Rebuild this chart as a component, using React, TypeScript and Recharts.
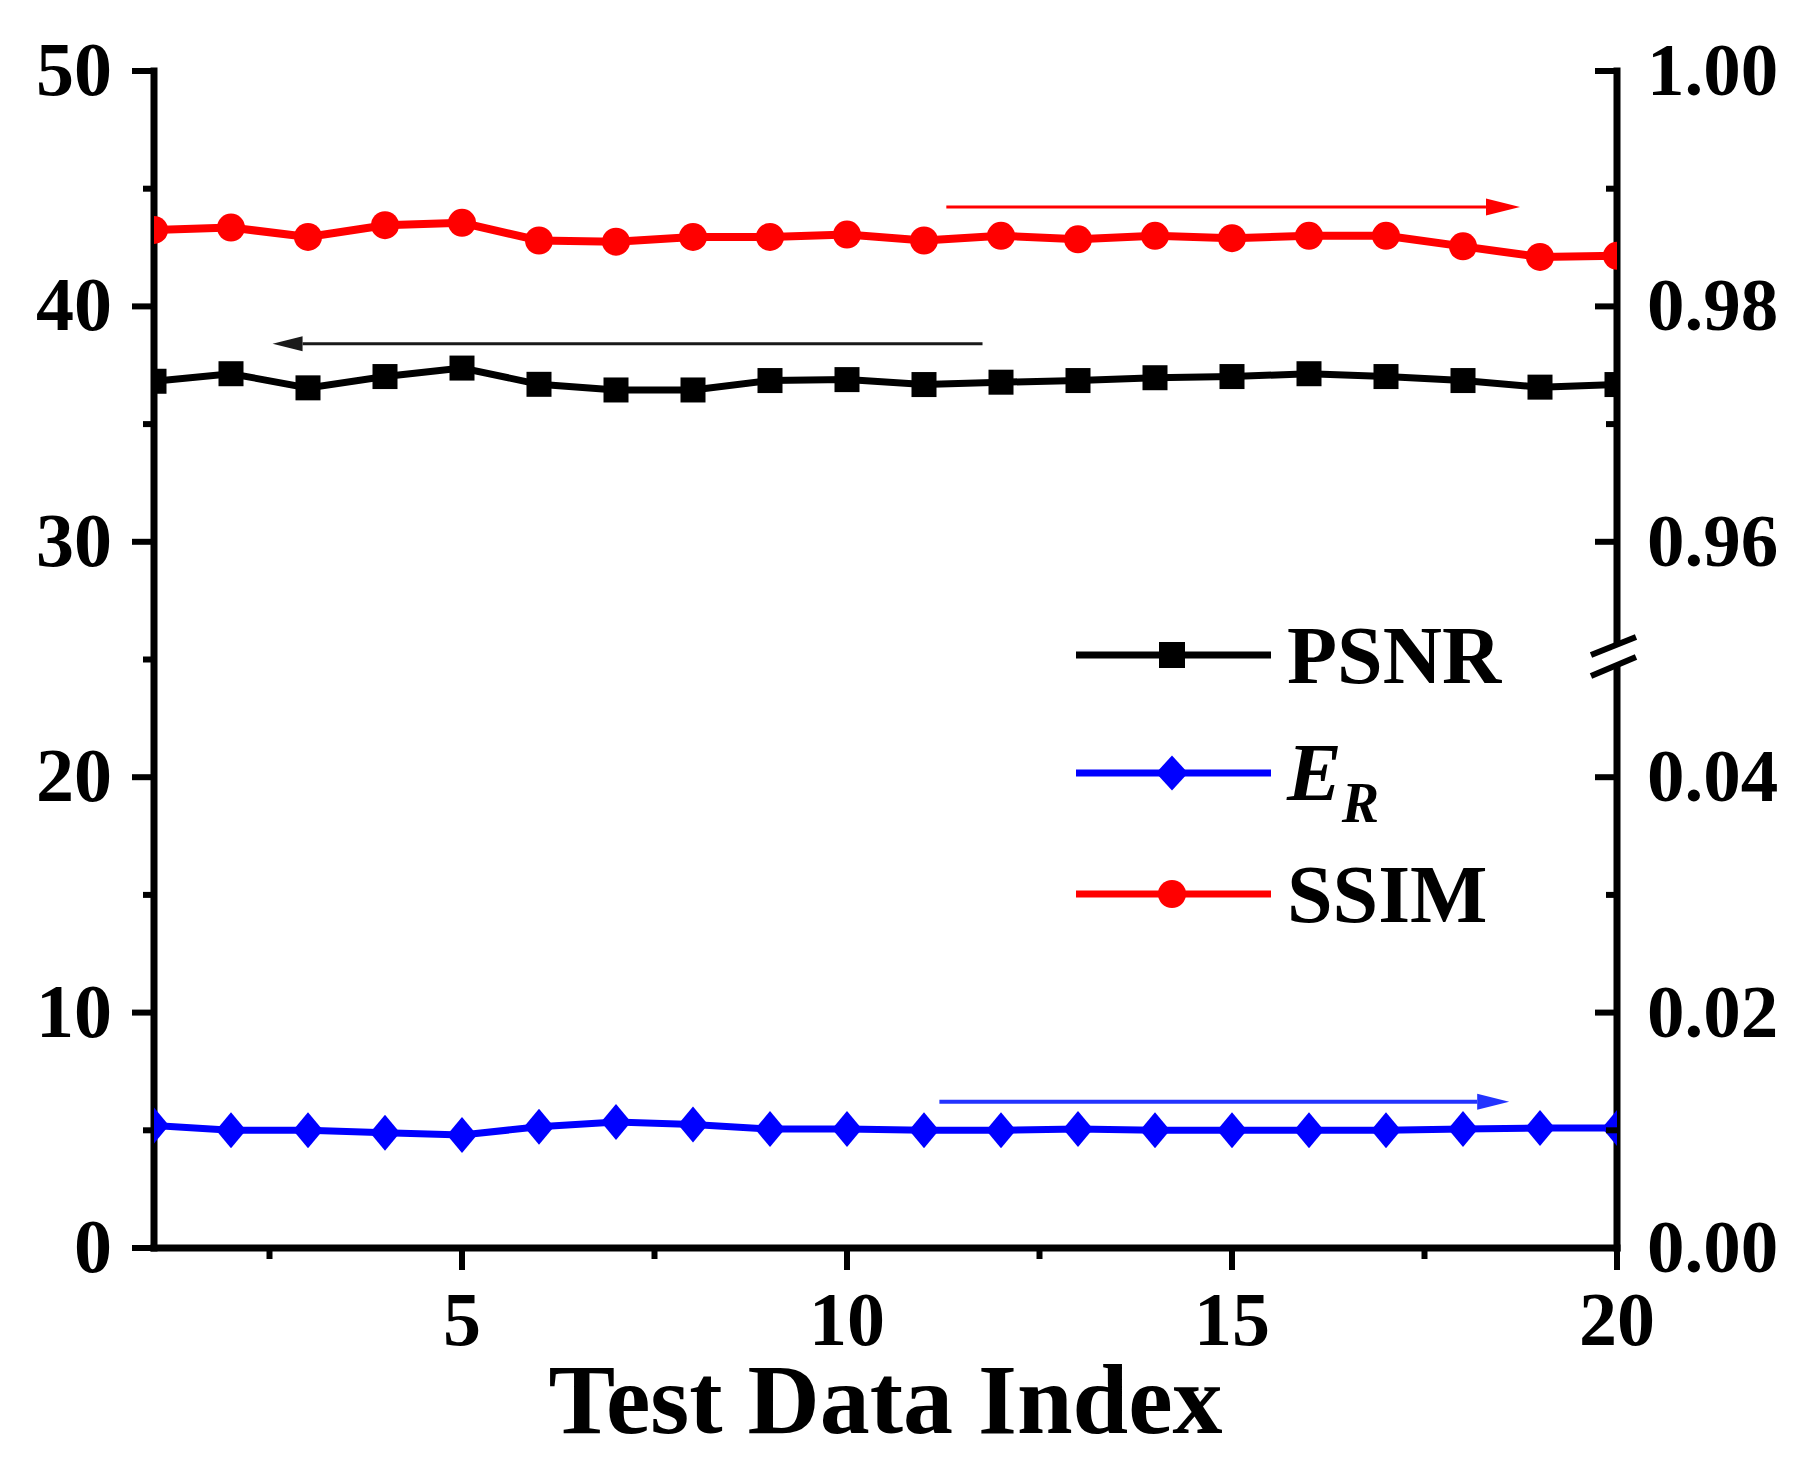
import React from "react"
import {
  LineChart,
  Line,
  XAxis,
  YAxis,
  Legend,
  ReferenceLine,
  ReferenceDot,
} from "recharts"

document.body.style.margin = "0"

// ---- data ----
const testIndex = [1, 2, 3, 4, 5, 6, 7, 8, 9, 10, 11, 12, 13, 14, 15, 16, 17, 18, 19, 20]
const psnr = [
  36.82, 37.14, 36.54, 37.02, 37.38, 36.69, 36.45, 36.45, 36.85, 36.89,
  36.68, 36.78, 36.85, 36.97, 37.02, 37.14, 37.02, 36.85, 36.57, 36.68,
]
const ssim = [
  0.9865, 0.9867, 0.9859, 0.9869, 0.9871, 0.9856, 0.9855, 0.9859, 0.9859, 0.9861,
  0.9856, 0.986, 0.9857, 0.986, 0.9858, 0.986, 0.986, 0.9851, 0.9842, 0.9843,
]
const er = [
  0.0104, 0.01, 0.01, 0.0098, 0.0096, 0.0103, 0.0107, 0.0105, 0.0101, 0.0101,
  0.01, 0.01, 0.0101, 0.01, 0.01, 0.01, 0.01, 0.0101, 0.0102, 0.0102,
]

const xTicks = [2.5, 5, 7.5, 10, 12.5, 15, 17.5, 20]
const leftTicks = [0, 5, 10, 15, 20, 25, 30, 35, 40, 45, 50]
// right axis is broken: lower half 0..0.05 (E_R), upper half 0.95..1.00 (SSIM)
const rightTicks = [0, 0.01, 0.02, 0.03, 0.04, 0.06, 0.07, 0.08, 0.09, 0.1]

const legendNames = ["PSNR", "E_R", "SSIM"]

// arrows pointing to the axis each curve belongs to
const psnrArrow = [{ x: 11.76, y: 38.41 }, { x: 2.54, y: 38.41 }]
const ssimArrow = [{ x: 11.29, y: 0.98845 }, { x: 18.74, y: 0.98845 }]
const erArrow = [{ x: 11.2, y: 0.01243 }, { x: 18.6, y: 0.01243 }]

const data = testIndex.map((x, i) => ({ x, psnr: psnr[i], ssim: ssim[i], er: er[i] }))

const FONT = '"Liberation Serif", "Times New Roman", serif'
const BLACK = "#000000"
const RED = "#ff0000"
const BLUE = "#0000ff"

const axisLine = { stroke: BLACK, strokeWidth: 7, strokeLinecap: "square" as const }

const Square = ({ cx, cy, size = 25, fill = BLACK }: any) => (
  <rect x={cx - size / 2} y={cy - size / 2} width={size} height={size} fill={fill} />
)
const Diamond = ({ cx, cy, w = 30, h = 36, fill = BLUE }: any) => (
  <polygon
    points={`${cx},${cy - h / 2} ${cx + w / 2},${cy} ${cx},${cy + h / 2} ${cx - w / 2},${cy}`}
    fill={fill}
  />
)

const LeftTick = ({ x, y, payload }: any) => {
  const v = payload.value
  const major = v % 10 === 0
  return (
    <g>
      <line x1={x - (major ? 22 : 11)} x2={x} y1={y} y2={y} stroke={BLACK} strokeWidth={6} />
      {major && (
        <text x={x - 42} y={y} dy={24} textAnchor="end" fontSize={76} fontWeight={700} fontFamily={FONT} fill={BLACK}>
          {v}
        </text>
      )}
    </g>
  )
}

const RightTick = ({ x, y, payload }: any) => {
  const v = payload.value
  const major = Math.round(v * 100) % 2 === 0
  const label = v < 0.05 ? v.toFixed(2) : (v + 0.9).toFixed(2)
  return (
    <g>
      <line x1={x - (major ? 22 : 11)} x2={x} y1={y} y2={y} stroke={BLACK} strokeWidth={6} />
      {major && (
        <text x={x + 30} y={y} dy={24} textAnchor="start" fontSize={75} fontWeight={700} fontFamily={FONT} fill={BLACK}>
          {label}
        </text>
      )}
    </g>
  )
}

const BottomTick = ({ x, y, payload }: any) => {
  const v = payload.value
  const major = v % 5 === 0
  return (
    <g>
      <line x1={x} x2={x} y1={y} y2={y + (major ? 22 : 11)} stroke={BLACK} strokeWidth={6} />
      {major && (
        <text x={x} y={y + 97} textAnchor="middle" fontSize={76} fontWeight={700} fontFamily={FONT} fill={BLACK}>
          {v}
        </text>
      )}
    </g>
  )
}

const TopTick = ({ x, y, payload }: any) => {
  const major = payload.value % 5 === 0
  return <line x1={x} x2={x} y1={y} y2={y + (major ? 24 : 12)} stroke={BLACK} strokeWidth={6} />
}

const arrow = (color: string, width: number, len: number, half: number) => (p: any) => {
  const { x1, y1, x2, y2 } = p
  const dir = Math.sign(x2 - x1)
  const bx = x2 - dir * len
  return (
    <g>
      <line x1={x1} y1={y1} x2={bx} y2={y2} stroke={color} strokeWidth={width} />
      <polygon points={`${x2},${y2} ${bx},${y2 - half} ${bx},${y2 + half}`} fill={color} />
    </g>
  )
}

const BreakMark = ({ cx, cy }: any) => (
  <g>
    <polygon
      points={`${cx - 26},${cy - 4.5} ${cx + 19},${cy - 22.5} ${cx + 19},${cy - 2.5} ${cx - 26},${cy + 16.5}`}
      fill="#ffffff"
    />
    <line x1={cx - 26} y1={cy - 4.5} x2={cx + 19} y2={cy - 22.5} stroke={BLACK} strokeWidth={6} />
    <line x1={cx - 26} y1={cy + 16.5} x2={cx + 19} y2={cy - 2.5} stroke={BLACK} strokeWidth={6} />
  </g>
)

const LegendBox = () => {
  const rows = [55, 173, 294]
  return (
    <svg width={600} height={340} style={{ display: "block" }}>
      {legendNames.map((name, i) => {
        const cy = rows[i]
        const color = i === 0 ? BLACK : i === 1 ? BLUE : RED
        return (
          <g key={name}>
            <line x1={16} x2={211} y1={cy} y2={cy} stroke={color} strokeWidth={7} />
            {i === 0 && <Square cx={112} cy={cy} size={26} />}
            {i === 1 && <Diamond cx={112} cy={cy} w={32} h={35} />}
            {i === 2 && <circle cx={112} cy={cy} r={14} fill={RED} />}
            {name === "E_R" ? (
              <text x={227} y={cy + 27} fontSize={82} fontWeight={700} fontStyle="italic" fontFamily={FONT} fill={BLACK}>
                E
                <tspan fontSize={56} dy={22}>R</tspan>
              </text>
            ) : (
              <text x={227} y={cy + 28} fontSize={82} fontWeight={700} fontFamily={FONT} fill={BLACK}>
                {name}
              </text>
            )}
          </g>
        )
      })}
    </svg>
  )
}

export default function App() {
  return (
    <LineChart
      width={1817}
      height={1461}
      data={data}
      margin={{ top: 71, right: 0, left: 0, bottom: 0 }}
      style={{ background: "#ffffff" }}
    >
      <XAxis
        xAxisId="bottom"
        dataKey="x"
        type="number"
        domain={[1, 20]}
        ticks={xTicks}
        interval={0}
        allowDataOverflow
        height={213}
        axisLine={axisLine}
        tickLine={false}
        tickSize={0}
        tickMargin={0}
        tick={<BottomTick />}
        label={{
          value: "Test Data Index",
          position: "insideBottom",
          offset: 28,
          fontSize: 100,
          fontWeight: 700,
          fontFamily: FONT,
          fill: BLACK,
        }}
      />
      <XAxis
        xAxisId="top"
        orientation="top"
        dataKey="x"
        type="number"
        domain={[1, 20]}
        ticks={xTicks}
        interval={0}
        height={0}
        axisLine={axisLine}
        tickLine={false}
        tickSize={0}
        tickMargin={0}
        tick={<TopTick />}
      />
      <YAxis
        yAxisId="left"
        type="number"
        domain={[0, 50]}
        ticks={leftTicks}
        interval={0}
        width={154}
        axisLine={axisLine}
        tickLine={false}
        tickSize={0}
        tickMargin={0}
        tick={<LeftTick />}
      />
      <YAxis
        yAxisId="er"
        orientation="right"
        type="number"
        domain={[0, 0.1]}
        ticks={rightTicks}
        interval={0}
        width={200}
        axisLine={axisLine}
        tickLine={false}
        tickSize={0}
        tickMargin={0}
        tick={<RightTick />}
      />
      <YAxis yAxisId="ssim" orientation="right" type="number" domain={[0.9, 1.0]} hide />

      <Line
        xAxisId="bottom"
        yAxisId="left"
        type="linear"
        dataKey="psnr"
        name="PSNR"
        stroke={BLACK}
        strokeWidth={7}
        dot={(p: any) => <Square key={`ps-${p.index}`} cx={p.cx} cy={p.cy} />}
        activeDot={false}
        isAnimationActive={false}
      />
      <Line
        xAxisId="bottom"
        yAxisId="er"
        type="linear"
        dataKey="er"
        name="E_R"
        stroke={BLUE}
        strokeWidth={7}
        dot={(p: any) => <Diamond key={`er-${p.index}`} cx={p.cx} cy={p.cy} />}
        activeDot={false}
        isAnimationActive={false}
      />
      <Line
        xAxisId="bottom"
        yAxisId="ssim"
        type="linear"
        dataKey="ssim"
        name="SSIM"
        stroke={RED}
        strokeWidth={8}
        dot={(p: any) => <circle key={`ss-${p.index}`} cx={p.cx} cy={p.cy} r={14} fill={RED} />}
        activeDot={false}
        isAnimationActive={false}
      />

      <ReferenceLine xAxisId="bottom" yAxisId="left" segment={psnrArrow} shape={arrow("#1a1a1a", 3, 30, 7.5)} />
      <ReferenceLine xAxisId="bottom" yAxisId="ssim" segment={ssimArrow} shape={arrow(RED, 3, 34, 8.5)} />
      <ReferenceLine xAxisId="bottom" yAxisId="er" segment={erArrow} shape={arrow("#2233ff", 4, 32, 8)} />

      <ReferenceDot xAxisId="bottom" yAxisId="er" x={20} y={0.05} ifOverflow="visible" shape={<BreakMark />} />

      <Legend
        layout="vertical"
        align="center"
        verticalAlign="middle"
        content={() => <LegendBox />}
        wrapperStyle={{ left: 1060, top: 600, width: 600, height: 340 }}
      />
    </LineChart>
  )
}
